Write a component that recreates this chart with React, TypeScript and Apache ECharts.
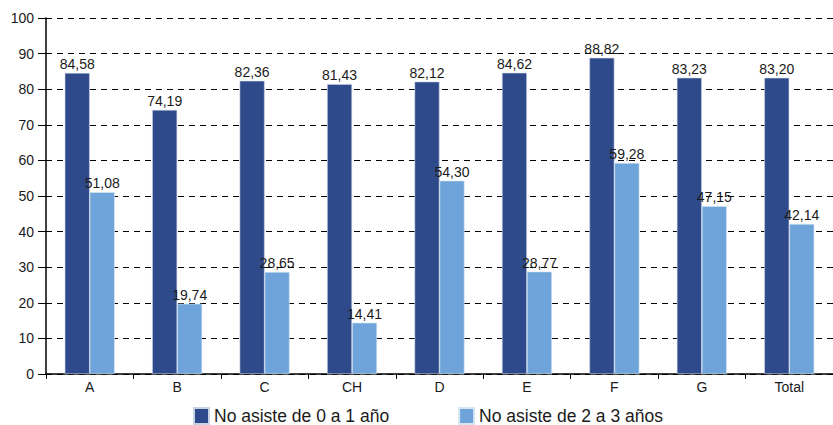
import React, { useEffect, useRef } from "react";
import * as echarts from "echarts";

const categories = ["A", "B", "C", "CH", "D", "E", "F", "G", "Total"];
const series01 = [84.58, 74.19, 82.36, 81.43, 82.12, 84.62, 88.82, 83.23, 83.2];
const series23 = [51.08, 19.74, 28.65, 14.41, 54.3, 28.77, 59.28, 47.15, 42.14];
const seriesNames = ["No asiste de 0 a 1 año", "No asiste de 2 a 3 años"];
const colors = ["#2F4A8A", "#6FA4DA"];

const fmt = (v: number) => v.toFixed(2).replace(".", ",");

export default function App() {
  const ref = useRef<HTMLDivElement>(null);
  useEffect(() => {
    if (!ref.current) return;
    const chart = echarts.init(ref.current, undefined, { renderer: "svg" });
    const font = "Liberation Sans, Arial, sans-serif";
    const label = {
      show: true,
      position: "top" as const,
      distance: 2,
      color: "#1a1a1a",
      fontSize: 14,
      fontFamily: font,
      formatter: (p: any) => fmt(p.value),
    };
    chart.setOption({
      animation: false,
      textStyle: { fontFamily: font },
      grid: { left: 46, right: 0, top: 18, bottom: 51, containLabel: false },
      legend: {
        left: 193,
        top: 407,
        padding: 0,
        itemWidth: 15,
        itemHeight: 16,
        itemGap: 69,
        icon: "rect",
        textStyle: { fontSize: 17.5, color: "#1a1a1a", fontFamily: font },
        data: seriesNames,
      },
      xAxis: {
        type: "category",
        data: categories,
        axisLine: { lineStyle: { color: "#000", width: 1.5 } },
        axisTick: { show: true, length: 5, lineStyle: { color: "#000" } },
        axisLabel: { color: "#1a1a1a", fontSize: 14, margin: 6, fontFamily: font },
      },
      yAxis: {
        type: "value",
        min: 0,
        max: 100,
        interval: 10,
        axisLine: { show: true, lineStyle: { color: "#000", width: 1.5 } },
        axisTick: { show: true, length: 8, lineStyle: { color: "#000" } },
        axisLabel: { color: "#1a1a1a", fontSize: 14, margin: 12, fontFamily: font },
        splitLine: {
          show: true,
          lineStyle: { color: "#000", type: [6, 5], width: 1 },
        },
      },
      series: [
        {
          name: seriesNames[0],
          type: "bar",
          data: series01,
          barWidth: 25,
          barGap: "0%",
          itemStyle: { color: colors[0], borderColor: "#c9d3e6", borderWidth: 0.6 },
          label,
        },
        {
          name: seriesNames[1],
          type: "bar",
          data: series23,
          barWidth: 25,
          barGap: "0%",
          itemStyle: { color: colors[1], borderColor: "#d6e5f4", borderWidth: 0.6 },
          label,
        },
      ],
    });
    return () => chart.dispose();
  }, []);
  return (
    <div
      ref={ref}
      style={{ position: "absolute", left: 0, top: 0, width: 833, height: 425 }}
    />
  );
}
